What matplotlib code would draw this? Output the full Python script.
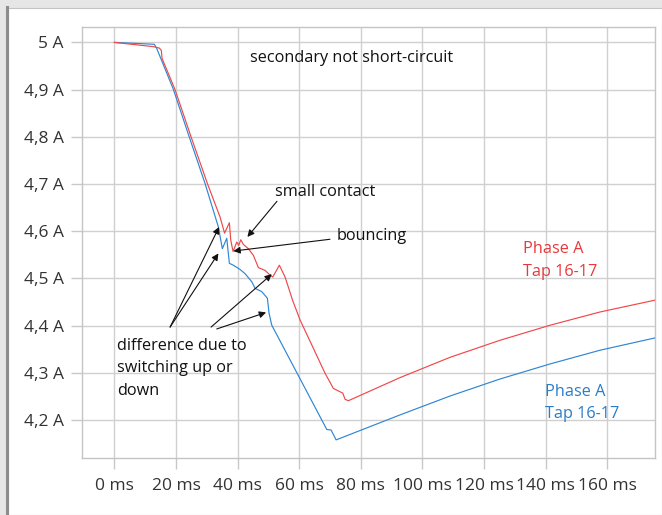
import matplotlib
matplotlib.use("Agg")
import matplotlib.pyplot as plt
from matplotlib.patches import Rectangle
from matplotlib.lines import Line2D

# ---- data ----
red_t = [0, 12.66, 14.61, 15.26, 15.49, 19.7, 24.9, 30.26, 34.32, 35.78, 37.34, 37.79,
         38.54, 39.74, 40.39, 41.04, 41.88, 43.51, 45.13, 46.75, 48.93, 50.55, 51.43,
         53.57, 55.42, 57.9, 60.29, 68.41, 71.1, 74.16, 74.9, 75.97, 92.76, 109.0,
         125.2, 141.5, 157.7, 175.5]
red_i = [5.0, 4.991, 4.988, 4.983, 4.966, 4.90, 4.80, 4.70, 4.630, 4.596, 4.618, 4.581,
         4.557, 4.577, 4.570, 4.582, 4.572, 4.563, 4.549, 4.523, 4.517, 4.507, 4.503,
         4.528, 4.503, 4.453, 4.412, 4.299, 4.267, 4.257, 4.244, 4.241, 4.290, 4.333,
         4.369, 4.401, 4.429, 4.454]

blue_t = [0, 12.99, 13.77, 19.16, 24.25, 29.45, 33.77, 35.06, 36.49, 37.34, 38.64,
          40.81, 42.44, 44.61, 45.68, 47.86, 49.68, 50.23, 51.1, 68.96, 70.36, 71.98,
          92.76, 109.0, 125.2, 141.5, 157.7, 175.5]
blue_i = [5.0, 4.996, 4.987, 4.9005, 4.801, 4.701, 4.609, 4.563, 4.585, 4.532, 4.528,
          4.519, 4.510, 4.493, 4.479, 4.472, 4.458, 4.426, 4.401, 4.180, 4.179, 4.158,
          4.211, 4.251, 4.287, 4.319, 4.348, 4.374]

x_ticks = [0, 20, 40, 60, 80, 100, 120, 140, 160]
x_labels = ["0 ms", "20 ms", "40 ms", "60 ms", "80 ms", "100 ms", "120 ms", "140 ms", "160 ms"]
y_ticks = [4.2, 4.3, 4.4, 4.5, 4.6, 4.7, 4.8, 4.9, 5.0]
y_labels = ["4,2 A", "4,3 A", "4,4 A", "4,5 A", "4,6 A", "4,7 A", "4,8 A", "4,9 A", "5 A"]

RED = "#f0484a"
BLUE = "#2f86d6"
RED_TXT = "#e8383a"
BLUE_TXT = "#2a7cc8"

plt.rcParams['font.family'] = ['Open Sans', 'DejaVu Sans']

W, H = 662, 515
fig = plt.figure(figsize=(W / 100, H / 100), dpi=100)
fig.patch.set_facecolor("#e6e6e6")
# white panel with left border
fig.patches.append(Rectangle((8 / W, 0), 1 - 8 / W, (H - 8) / H, transform=fig.transFigure,
                             facecolor="white", edgecolor="#c4c4c4", linewidth=0.8, zorder=-10))
fig.lines.append(Line2D([6.5 / W, 6.5 / W], [0, (H - 7) / H], transform=fig.transFigure,
                        color="#8c8c8c", linewidth=2.2, zorder=-9))

ax = fig.add_axes([82 / W, (H - 458.3) / H, (655.3 - 82) / W, (458.3 - 27.3) / H])
ax.set_zorder(5)
ax.set_xlim(-10.5, 175.6)
ax.set_ylim(4.119, 5.032)

ax.plot(blue_t, blue_i, color=BLUE, lw=0.85, zorder=3)
ax.plot(red_t, red_i, color=RED, lw=0.85, zorder=3)

ax.set_xticks(x_ticks)
ax.set_xticklabels(x_labels)
ax.set_yticks(y_ticks)
ax.set_yticklabels(y_labels)
ax.tick_params(axis='both', colors="#c8c8c8", labelcolor="#333333", labelsize=12.5,
               length=8, width=1)
ax.tick_params(axis='y', pad=5)
ax.tick_params(axis='x', pad=6)
ax.grid(True, color="#d0d0d0", lw=1)
ax.set_axisbelow(True)
for s in ax.spines.values():
    s.set_color("#c4c4c4")
    s.set_linewidth(1)

fs = 11.7
ax.text(44.0, 4.966, "secondary not short-circuit", fontsize=fs, color="#111111",
        ha="left", va="center")
ax.text(52.2, 4.683, "small contact", fontsize=fs, color="#111111", ha="left", va="center")
ax.text(72.0, 4.589, "bouncing", fontsize=fs, color="#111111", ha="left", va="center")
ax.text(0.9, 4.310, "difference due to\nswitching up or\ndown", fontsize=fs,
        color="#111111", ha="left", va="center", linespacing=1.55)
ax.text(132.7, 4.5376, "Phase A\nTap 16-17", fontsize=fs, color=RED_TXT, ha="left",
        va="center", linespacing=1.6)
ax.text(139.8, 4.237, "Phase A\nTap 16-17", fontsize=fs, color=BLUE_TXT, ha="left",
        va="center", linespacing=1.5)

arrows = [
    ((52.8, 4.6635), (43.2, 4.588)),
    ((70.0, 4.583), (38.64, 4.558)),
    ((18.1, 4.397), (34.0, 4.609)),
    ((18.1, 4.397), (33.77, 4.553)),
    ((31.4, 4.397), (51.1, 4.509)),
    ((33.25, 4.393), (49.25, 4.428)),
]
for start, tip in arrows:
    ax.annotate("", xy=tip, xytext=start,
                arrowprops=dict(arrowstyle="-|>", color="#111111", lw=0.8,
                                mutation_scale=10, shrinkA=0, shrinkB=0))

fig.savefig("out.png", dpi=100, facecolor=fig.get_facecolor())
